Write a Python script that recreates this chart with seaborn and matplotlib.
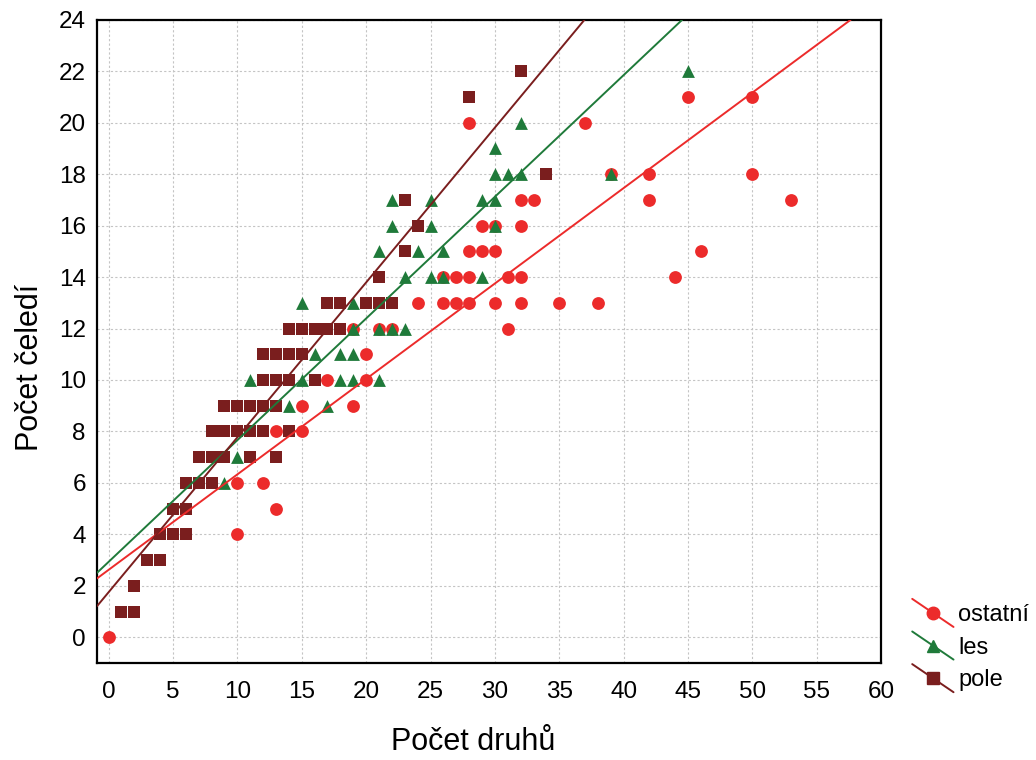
import numpy as np
import pandas as pd
import matplotlib
matplotlib.use("Agg")
import matplotlib.pyplot as plt
import seaborn as sns
from matplotlib.lines import Line2D
from matplotlib.legend_handler import HandlerBase

# values (x = Počet druhů, y = Počet čeledí)
ostatni_x = [0, 10, 13, 10, 12, 13, 15, 15, 19, 17, 20, 20, 19, 21, 22, 31,
             24, 26, 27, 28, 30, 32, 35, 38, 26, 27, 28, 31, 32, 44,
             28, 29, 30, 46, 29, 30, 32, 32, 33, 42, 53, 39, 42, 50,
             28, 37, 45, 50]
ostatni_y = [0, 4, 5, 6, 6, 8, 8, 9, 9, 10, 10, 11, 12, 12, 12, 12,
             13, 13, 13, 13, 13, 13, 13, 13, 14, 14, 14, 14, 14, 14,
             15, 15, 15, 15, 16, 16, 16, 17, 17, 17, 17, 18, 18, 18,
             20, 20, 21, 21]

les_x = [9, 10, 14, 17, 11, 15, 18, 19, 21, 16, 18, 19, 19, 21, 22, 23,
         15, 19, 23, 25, 26, 29, 21, 24, 26, 22, 25, 30, 22, 25, 29, 30,
         30, 31, 32, 39, 30, 32, 45]
les_y = [6, 7, 9, 9, 10, 10, 10, 10, 10, 11, 11, 11, 12, 12, 12, 12,
         13, 13, 14, 14, 14, 14, 15, 15, 15, 16, 16, 16, 17, 17, 17, 17,
         18, 18, 18, 18, 19, 20, 22]

pole_x = [1, 2, 2, 3, 4, 4, 5, 6, 5, 6, 6, 7, 8, 7, 8, 9, 11, 13,
          8, 9, 10, 11, 12, 14, 9, 10, 11, 12, 13, 12, 13, 14, 16,
          12, 13, 14, 15, 14, 15, 16, 17, 18, 17, 18, 20, 21, 22,
          21, 23, 24, 23, 34, 28, 32]
pole_y = [1, 1, 2, 3, 3, 4, 4, 4, 5, 5, 6, 6, 6, 7, 7, 7, 7, 7,
          8, 8, 8, 8, 8, 8, 9, 9, 9, 9, 9, 10, 10, 10, 10,
          11, 11, 11, 11, 12, 12, 12, 12, 12, 13, 13, 13, 13, 13,
          14, 15, 16, 17, 18, 21, 22]

groups = ["ostatní", "les", "pole"]
# fitted lines (intercept, slope), same order as groups
fit_intercept = [2.62, 2.93, 1.75]
fit_slope = [0.371, 0.473, 0.602]

colors = {"ostatní": "#EC2B2B", "les": "#1F7A3A", "pole": "#7A1E1E"}
markers = {"ostatní": "o", "les": "^", "pole": "s"}

df = pd.concat([
    pd.DataFrame({"druhy": ostatni_x, "celedi": ostatni_y, "skupina": "ostatní"}),
    pd.DataFrame({"druhy": les_x, "celedi": les_y, "skupina": "les"}),
    pd.DataFrame({"druhy": pole_x, "celedi": pole_y, "skupina": "pole"}),
])

sns.set_style("white")
plt.rcParams["font.family"] = ["Liberation Sans", "DejaVu Sans"]
plt.rcParams["text.color"] = "black"
plt.rcParams["axes.labelcolor"] = "black"
plt.rcParams["xtick.color"] = "black"
plt.rcParams["ytick.color"] = "black"

fig = plt.figure(figsize=(10.36, 7.6), dpi=100)
ax = fig.add_axes([0.0936, 0.1276, 0.757, 0.8464])

for g in groups:
    sub = df[df["skupina"] == g]
    sns.scatterplot(data=sub, x="druhy", y="celedi", ax=ax, color=colors[g],
                    marker=markers[g], s=85, linewidth=0, zorder=3, legend=False)

for g, b, m in zip(groups, fit_intercept, fit_slope):
    ax.axline((0, b), slope=m, color=colors[g], lw=1.4, zorder=4)

ax.set_xlim(-0.9, 60)
ax.set_ylim(-1, 24)
ax.set_xticks(np.arange(0, 61, 5))
ax.set_yticks(np.arange(0, 25, 2))
ax.grid(True, color="#c4c4c4", linestyle=(0, (2, 2)), linewidth=0.8)
ax.set_axisbelow(True)
for sp in ax.spines.values():
    sp.set_color("black")
    sp.set_linewidth(1.6)
ax.tick_params(direction="in", length=5, width=1.2, labelsize=17.5)
ax.tick_params(axis="y", pad=8)
ax.tick_params(axis="x", pad=13)
ax.set_xlabel("Počet druhů", fontsize=22)
ax.set_ylabel("Počet čeledí", fontsize=22)
ax.xaxis.set_label_coords(0.48, -0.100)
ax.yaxis.set_label_coords(-0.066, 0.459)


class DiagHandler(HandlerBase):
    def create_artists(self, legend, orig_handle, xdescent, ydescent,
                       width, height, fontsize, trans):
        c = orig_handle.get_color()
        line = Line2D([-xdescent, width - xdescent],
                      [height * 1.35 - ydescent, -height * 0.35 - ydescent],
                      color=c, lw=1.4, transform=trans)
        mk = Line2D([width / 2 - xdescent], [height / 2 - ydescent],
                    marker=orig_handle.get_marker(), color=c, markersize=9,
                    linestyle="none", transform=trans)
        return [line, mk]


handles = [Line2D([], [], color=colors[g], marker=markers[g]) for g in groups]
fig.legend(handles, groups, loc="upper left", bbox_to_anchor=(0.860, 0.233),
           frameon=False, fontsize=17, handlelength=1.75, handletextpad=0.2,
           labelspacing=0.45, handler_map={Line2D: DiagHandler()})

fig.savefig("out.png", dpi=100)
